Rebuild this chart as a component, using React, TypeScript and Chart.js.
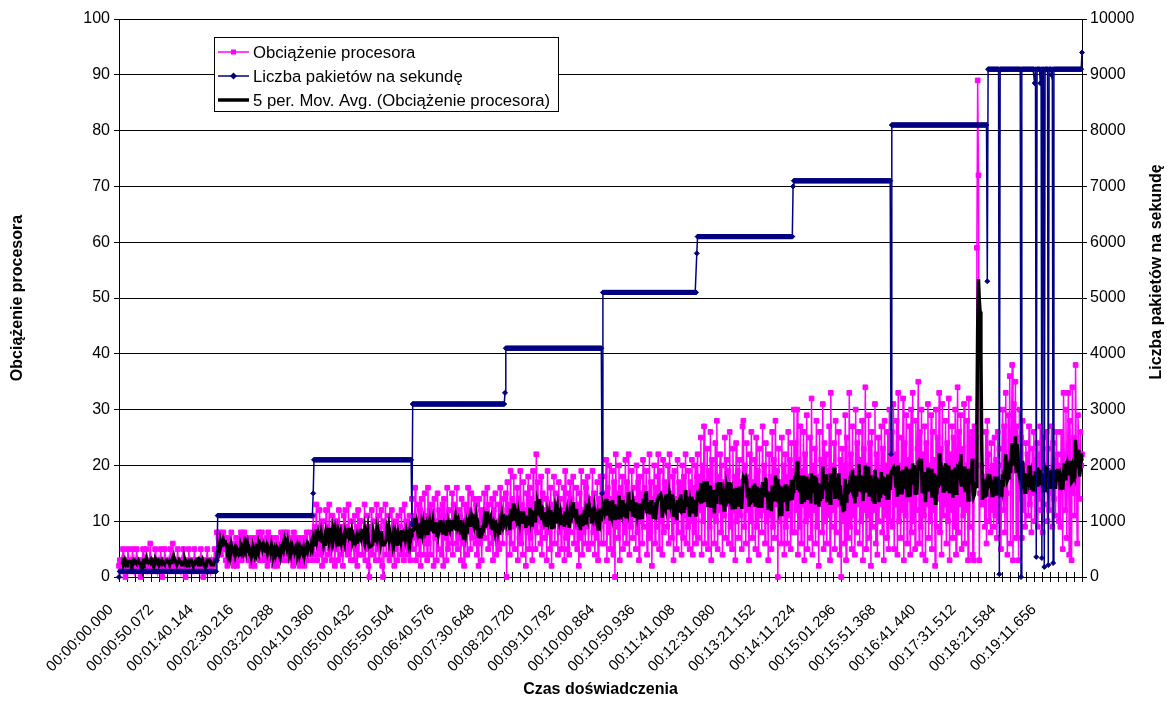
import React, { useEffect, useRef } from 'react';
import { Chart, registerables } from 'chart.js';

Chart.register(...registerables);

// ---- Data (one sample per ~1.0014 s, 1201 samples) ----
// CPU load (%) per packet-rate stage
const cpuStage100 = [
  2, 3, 1, 3, 2, 5, 2, 3, 0, 3,
  2, 5, 3, 1, 3, 2, 3, 5, 2, 1,
  3, 2, 5, 3, 2, 1, 3, 0, 2, 3,
  5, 2, 3, 2, 5, 1, 3, 2, 3, 6,
  2, 1, 3, 3, 2, 5, 3, 2, 1, 3,
  2, 3, 5, 2, 0, 3, 2, 5, 3, 2,
  3, 2, 3, 1, 5, 2, 3, 6, 3, 2,
  1, 3, 2, 5, 2, 3, 2, 1, 3, 2,
  5, 3, 2, 0, 3, 2, 3, 5, 2, 3,
  2, 1, 3, 2, 5, 3, 2, 2, 3, 1,
  3, 2, 5, 2, 3, 0, 2, 3, 2, 3,
  5, 2, 3, 2, 1, 3, 2, 3, 2, 5,
  3, 3,
];
const cpuStage1100 = [
  8, 4, 7, 5, 8, 4, 7, 6, 8, 5,
  7, 3, 6, 2, 7, 4, 6, 3, 8, 4,
  6, 2, 5, 3, 7, 2, 6, 3, 5, 4,
  8, 3, 7, 4, 8, 5, 6, 4, 7, 3,
  6, 3, 5, 2, 7, 3, 6, 2, 6, 4,
  7, 4, 8, 3, 7, 5, 8, 3, 6, 4,
  6, 3, 7, 2, 8, 4, 6, 3, 7, 4,
  5, 2, 6, 3, 7, 2, 5, 4, 6, 3,
  8, 4, 7, 3, 8, 5, 6, 4, 8, 3,
  6, 3, 7, 4, 6, 2, 8, 3, 7, 4,
  5, 3, 6, 2, 7, 3, 5, 4, 6, 2,
  7, 4, 8, 3, 6, 5, 8, 4, 7, 3,
];
const cpuStage2100 = [
  11, 4, 9, 6, 13, 3, 8, 5, 12, 4,
  9, 2, 10, 5, 8, 3, 12, 6, 9, 4,
  13, 5, 8, 3, 11, 7, 10, 2, 9, 5,
  10, 3, 12, 6, 8, 4, 9, 2, 11, 5,
  12, 6, 9, 4, 13, 5, 8, 3, 10, 6,
  8, 3, 11, 5, 9, 2, 12, 4, 10, 7,
  10, 4, 8, 6, 13, 3, 9, 5, 11, 2,
  0, 9, 5, 12, 4, 10, 6, 8, 3, 13,
  5, 11, 3, 9, 6, 12, 2, 0, 10, 6,
  13, 4, 9, 7, 11, 3, 8, 5, 12, 4,
  9, 2, 10, 5, 8, 3, 11, 6, 9, 4,
  12, 5, 8, 3, 13, 6, 10, 4, 9, 5,
  11, 3, 9,
];
const cpuStage3100 = [
  14, 5, 11, 7, 16, 3, 10, 6, 13, 4,
  12, 2, 14, 8, 10, 4, 15, 6, 11, 3,
  16, 6, 12, 4, 13, 9, 11, 2, 14, 7,
  10, 3, 15, 5, 12, 8, 11, 4, 13, 2,
  14, 7, 11, 3, 16, 5, 12, 8, 10, 6,
  15, 4, 13, 9, 11, 6, 16, 5, 12, 7,
  11, 3, 14, 6, 10, 2, 13, 8, 12, 4,
  16, 8, 12, 5, 15, 7, 11, 9, 14, 6,
  13, 4, 10, 2, 14, 6, 12, 3, 11, 8,
  15, 7, 12, 9, 16, 5, 13, 8, 11, 6,
  14, 3, 12, 7, 15, 4, 10, 6, 13, 5,
  16, 8, 12, 6, 14, 9, 11,
];
const cpuStage4100 = [
  15, 0, 17, 8, 13, 4, 19, 6, 14, 9,
  18, 5, 12, 10, 16, 3, 14, 7, 19, 6,
  13, 4, 17, 9, 12, 2, 15, 8, 18, 5,
  16, 7, 14, 3, 19, 9, 13, 5, 22, 8,
  17, 10, 13, 6, 18, 4, 15, 9, 12, 7,
  14, 3, 19, 8, 12, 5, 16, 2, 13, 9,
  18, 6, 15, 10, 13, 4, 17, 8, 14, 5,
  12, 9, 16, 3, 19, 7, 13, 5, 15, 4,
  17, 8, 14, 10, 18, 6, 12, 9, 16, 5,
  13, 2, 15, 7, 19, 4, 12, 8, 17, 6,
  16, 9, 18, 5, 14, 10, 13, 6, 19, 8,
  15, 4, 12, 7, 17, 3, 14, 9, 18, 6,
  13,
];
const cpuStage5100 = [
  18, 6, 15, 10, 21, 3, 16, 8, 20, 5,
  14, 11, 19, 4, 17, 0, 22, 9, 15, 7,
  20, 3, 16, 12, 18, 5, 14, 8, 21, 6,
  17, 10, 22, 4, 15, 9, 19, 7, 16, 11,
  14, 5, 20, 8, 17, 3, 18, 10, 15, 6,
  21, 9, 16, 12, 19, 4, 15, 7, 22, 8,
  17, 2, 14, 11, 20, 6, 16, 9, 18, 22,
  5, 19, 10, 15, 4, 21, 8, 17, 12, 16,
  9, 20, 6, 22, 11, 15, 7, 18, 3, 19,
  10, 14, 5, 21, 8, 17, 12, 16, 4, 20,
  7, 18, 11, 22, 6, 15, 9, 19, 5, 17,
  10, 21, 4, 16, 8, 20, 6, 18,
];
const cpuStage6100 = [
  22, 7, 18, 12, 25, 4, 20, 10, 27, 6,
  17, 13, 23, 5, 19, 9, 26, 3, 21, 11,
  16, 6, 24, 10, 28, 5, 18, 12, 22, 8,
  20, 4, 17, 11, 25, 7, 21, 13, 19, 6,
  26, 9, 16, 5, 23, 12, 18, 3, 24, 10,
  19, 7, 21, 11, 17, 5, 27, 28, 9, 20,
  6, 24, 12, 18, 3, 22, 10, 26, 7, 17,
  13, 21, 5, 25, 9, 19, 4, 23, 11, 16,
  8, 27, 12, 20, 6, 24, 10, 17, 3, 22,
  11, 18, 5, 26, 9, 21, 7, 28, 13, 19,
  0, 23, 10, 17, 6, 25, 12, 20, 4, 22,
  9, 18, 6, 26, 11, 21, 5, 24, 8, 19,
];
const cpuStage7100 = [
  30, 8, 24, 12, 30, 4, 21, 9, 27, 6,
  19, 13, 26, 3, 22, 10, 29, 5, 18, 11,
  25, 7, 32, 4, 20, 12, 23, 6, 28, 9,
  18, 2, 26, 13, 21, 8, 31, 5, 24, 10,
  22, 6, 19, 11, 27, 3, 33, 9, 20, 12,
  24, 5, 28, 8, 18, 13, 26, 4, 21, 0,
  23, 10, 20, 6, 29, 3, 25, 12, 7, 33,
  9, 22, 5, 27, 11, 19, 4, 30, 8, 24,
  13, 26, 6, 21, 10, 28, 3, 23, 12, 34,
  5, 20, 11, 29, 7, 24, 2, 26, 9, 18,
  12, 31, 6, 22, 4, 25, 10, 19, 13, 27,
  8, 23, 3, 28, 11, 20, 7, 26, 5, 30,
  10, 22,
];
const cpuStage8100 = [
  26, 9, 31, 5, 22, 13, 28, 4, 33, 10,
  20, 7, 25, 12, 32, 3, 24, 11, 29, 6,
  21, 14, 27, 4, 30, 8, 33, 10, 19, 5,
  28, 12, 23, 35, 6, 26, 9, 30, 4, 22,
  11, 27, 3, 24, 13, 31, 7, 20, 10, 29,
  5, 26, 12, 21, 2, 30, 9, 25, 14, 33,
  8, 23, 4, 31, 11, 19, 13, 28, 6, 24,
  10, 32, 3, 22, 12, 27, 7, 25, 9, 30,
  4, 21, 34, 8, 26, 13, 29, 5, 23, 11,
  31, 6, 20, 12, 28, 3, 32, 9, 25, 14,
  26, 4, 3, 27, 22, 25, 59, 89, 72, 3,
  15, 20, 13, 18, 14, 17, 9, 26, 6, 28,
];
const cpuStage9100 = [
  22, 10, 19, 8, 24, 12, 20, 9, 25, 11,
  21, 7, 26, 10, 23, 14, 5, 20, 30, 12,
  27, 8, 33, 15, 4, 29, 18, 36, 6, 22,
  38, 3, 31, 19, 35, 7, 27, 24, 3, 30,
  14, 25, 7, 28, 12, 20, 9, 24, 16, 22,
  11, 27, 13, 19, 8, 23, 15, 26, 10, 21,
  17, 24, 9, 22, 14, 27, 12, 18, 8, 25,
  13, 20, 16, 26, 10, 23, 12, 19, 15, 27,
  9, 24, 14, 21, 11, 26, 17, 22, 10, 20,
  9, 26, 18, 5, 33, 20, 12, 30, 7, 22,
  33, 4, 28, 17, 3, 34, 15, 25, 11, 38,
  19, 6, 29, 22, 14, 26, 20, 22,
];

const cpuLoad = [
  ...cpuStage100, ...cpuStage1100, ...cpuStage2100, ...cpuStage3100, ...cpuStage4100,
  ...cpuStage5100, ...cpuStage6100, ...cpuStage7100, ...cpuStage8100, ...cpuStage9100,
];

// Packets per second, as [value, number of consecutive samples]
const packetRuns: [number, number][] = [
  [0, 1], [100, 121], [300, 1], [1100, 119], [1500, 1], [2100, 122], [950, 1],
  [3100, 115], [3300, 1], [4100, 120], [1500, 1], [5100, 117], [5800, 1],
  [6100, 119], [7000, 1], [7100, 121], [2200, 1], [8100, 119], [5300, 1],
  [9100, 14], [50, 1], [9100, 26], [0, 1], [9100, 16], [8850, 1], [9100, 1],
  [360, 1], [9100, 4], [8850, 1], [9100, 1], [340, 1], [9100, 2], [180, 1],
  [9100, 4], [215, 1], [9100, 3], [9000, 1], [9100, 1], [250, 1], [9100, 35],
  [9400, 1],
];

const timeLabels = [
  '00:00:00.000', '00:00:50.072', '00:01:40.144', '00:02:30.216', '00:03:20.288',
  '00:04:10.360', '00:05:00.432', '00:05:50.504', '00:06:40.576', '00:07:30.648',
  '00:08:20.720', '00:09:10.792', '00:10:00.864', '00:10:50.936', '00:11:41.008',
  '00:12:31.080', '00:13:21.152', '00:14:11.224', '00:15:01.296', '00:15:51.368',
  '00:16:41.440', '00:17:31.512', '00:18:21.584', '00:19:11.656',
];

const seriesNames = [
  'Obciążenie procesora',
  'Liczba pakietów na sekundę',
  '5 per. Mov. Avg. (Obciążenie procesora)',
];
const xTitle = 'Czas doświadczenia';
const yTitle = 'Obciążenie procesora';
const y2Title = 'Liczba pakietów na sekundę';

const LABEL_EVERY = 50;
const TICK_EVERY = 10;
const MA_PERIOD = 5;

const FONT = "'Liberation Sans', Arial, Helvetica, sans-serif";
const PINK = '#FF00FF';
const NAVY = '#000080';

function expandRuns(runs: [number, number][]): number[] {
  const out: number[] = [];
  for (const [v, n] of runs) for (let k = 0; k < n; k++) out.push(v);
  return out;
}

function movingAverage(values: number[], period: number): (number | null)[] {
  return values.map((_, i) => {
    if (i < period - 1) return null;
    let s = 0;
    for (let k = i - period + 1; k <= i; k++) s += values[k];
    return s / period;
  });
}

export default function App() {
  const ref = useRef<HTMLCanvasElement>(null);

  useEffect(() => {
    const canvas = ref.current;
    if (!canvas) return;
    const packets = expandRuns(packetRuns);
    const ma = movingAverage(cpuLoad, MA_PERIOD);
    const lastIndex = cpuLoad.length - 1;
    const toPts = (arr: (number | null)[]) => arr.map((y, x) => ({ x, y }));

    const decor = {
      id: 'decor',
      beforeDatasetsDraw(chart: any) {
        const { ctx, chartArea, scales } = chart;
        ctx.save();
        ctx.strokeStyle = '#000';
        ctx.lineWidth = 1;
        ctx.beginPath();
        for (let i = 0; i <= lastIndex; i += TICK_EVERY) {
          const px = Math.round(scales.x.getPixelForValue(i)) + 0.5;
          ctx.moveTo(px, chartArea.bottom - 5);
          ctx.lineTo(px, chartArea.bottom + 5);
        }
        ctx.stroke();
        ctx.restore();
      },
      afterDraw(chart: any) {
        const { ctx, chartArea } = chart;
        const midY = (chartArea.top + chartArea.bottom) / 2;
        ctx.save();
        ctx.fillStyle = '#000';
        ctx.font = `bold 16px ${FONT}`;
        ctx.textAlign = 'center';
        ctx.textBaseline = 'middle';
        // left title
        ctx.save();
        ctx.translate(18, midY);
        ctx.rotate(-Math.PI / 2);
        ctx.fillText(yTitle, 0, 0);
        ctx.restore();
        // right title
        ctx.save();
        ctx.translate(1157, 272);
        ctx.rotate(-Math.PI / 2);
        ctx.fillText(y2Title, 0, 0);
        ctx.restore();
        // x title
        ctx.fillText(xTitle, (chartArea.left + chartArea.right) / 2, 690);

        // legend
        const bx = 214.5, by = 37.5, bw = 344, bh = 74;
        ctx.fillStyle = '#fff';
        ctx.fillRect(bx, by, bw, bh);
        ctx.strokeStyle = '#000';
        ctx.lineWidth = 1;
        ctx.strokeRect(bx, by, bw, bh);
        const rows = [52, 76, 100];
        const colors = [PINK, NAVY, '#000'];
        const widths = [1.5, 1.5, 3.5];
        ctx.font = `16.7px ${FONT}`;
        ctx.textAlign = 'left';
        for (let r = 0; r < 3; r++) {
          const y = rows[r];
          ctx.strokeStyle = colors[r];
          ctx.lineWidth = widths[r];
          ctx.beginPath();
          ctx.moveTo(218, y);
          ctx.lineTo(249, y);
          ctx.stroke();
          ctx.fillStyle = colors[r];
          if (r === 0) {
            ctx.fillRect(231, y - 2.5, 5, 5);
          } else if (r === 1) {
            ctx.beginPath();
            ctx.moveTo(233.5, y - 3.5);
            ctx.lineTo(237, y);
            ctx.lineTo(233.5, y + 3.5);
            ctx.lineTo(230, y);
            ctx.closePath();
            ctx.fill();
          }
          ctx.fillStyle = '#000';
          ctx.fillText(seriesNames[r], 253, y + 1);
        }
        ctx.restore();
      },
    };

    const yFont = { family: FONT, size: 16 };
    const xFont = { family: FONT, size: 15 };

    const chart = new Chart(canvas, {
      type: 'line',
      data: {
        datasets: [
          {
            label: seriesNames[0],
            data: toPts(cpuLoad),
            yAxisID: 'y',
            borderColor: PINK,
            backgroundColor: PINK,
            borderWidth: 1.5,
            pointStyle: 'rect',
            pointRadius: 3.3,
            pointBorderWidth: 1,
            pointBorderColor: PINK,
            pointBackgroundColor: PINK,
            tension: 0,
            clip: false,
            order: 3,
          },
          {
            label: seriesNames[2],
            data: toPts(ma),
            yAxisID: 'y',
            borderColor: '#000',
            borderWidth: 3.5,
            pointRadius: 0,
            tension: 0,
            clip: false,
            order: 2,
          },
          {
            label: seriesNames[1],
            data: toPts(packets),
            yAxisID: 'y1',
            borderColor: NAVY,
            backgroundColor: NAVY,
            borderWidth: 1.5,
            pointStyle: 'rectRot',
            pointRadius: 2.5,
            pointBorderWidth: 1,
            pointBorderColor: NAVY,
            pointBackgroundColor: NAVY,
            tension: 0,
            clip: false,
            order: 1,
          },
        ],
      } as any,
      options: {
        animation: false,
        responsive: false,
        devicePixelRatio: 1,
        events: [],
        layout: { padding: { top: 19, left: 0, right: 0, bottom: 0 } },
        plugins: {
          legend: { display: false },
          tooltip: { enabled: false },
        },
        scales: {
          x: {
            type: 'linear',
            min: 0,
            max: lastIndex,
            afterFit: (s: any) => { s.height = 124; },
            grid: { display: false },
            border: { display: false },
            ticks: {
              stepSize: LABEL_EVERY,
              maxTicksLimit: 1000,
              autoSkip: false,
              maxRotation: 45,
              minRotation: 45,
              padding: 16,
              labelOffset: -8,
              color: '#000',
              font: xFont,
              callback: (v: any) => {
                const n = Number(v);
                if (n % LABEL_EVERY !== 0) return '';
                return timeLabels[Math.round(n / LABEL_EVERY)] ?? '';
              },
            },
          },
          y: {
            position: 'left',
            min: 0,
            max: 100,
            afterFit: (s: any) => { s.width = 119; },
            ticks: { stepSize: 10, padding: 4, color: '#000', font: yFont },
            grid: { color: '#000', lineWidth: 1, drawTicks: true, tickLength: 5, tickColor: '#000' },
            border: { display: true, color: '#000', width: 1 },
          },
          y1: {
            position: 'right',
            min: 0,
            max: 10000,
            afterFit: (s: any) => { s.width = 85; },
            ticks: {
              stepSize: 1000,
              padding: 3,
              color: '#000',
              font: yFont,
              callback: (v: any) => String(v),
            },
            grid: { drawOnChartArea: false, color: '#000', drawTicks: true, tickLength: 5, tickColor: '#000' },
            border: { display: true, color: '#000', width: 1 },
          },
        },
      } as any,
      plugins: [decor],
    });

    return () => chart.destroy();
  }, []);

  return (
    <div style={{ position: 'fixed', left: 0, top: 0, width: 1167, height: 701, background: '#fff' }}>
      <canvas ref={ref} width={1167} height={701} style={{ display: 'block', width: 1167, height: 701 }} />
    </div>
  );
}
